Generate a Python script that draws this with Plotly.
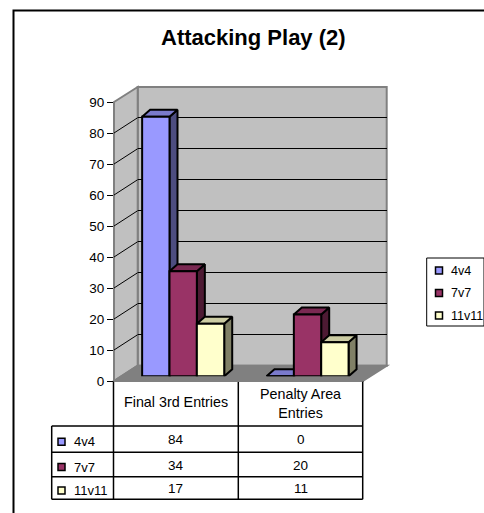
import plotly.graph_objects as go

W, H = 484, 513
title = "Attacking Play (2)"
categories = ["Final 3rd Entries", "Penalty Area Entries"]
cat_cells = ["Final 3rd Entries", "Penalty Area<br>Entries"]
series = ["4v4", "7v7", "11v11"]
v4 = [84, 0]
v7 = [34, 20]
v11 = [17, 11]
values = [v4, v7, v11]
yticks = [0, 10, 20, 30, 40, 50, 60, 70, 80, 90]

front = ["#9999FF", "#993366", "#FFFFCC"]
top = ["#7A7ACC", "#7A2952", "#CCCCA3"]
side = ["#4D4D80", "#4D1A33", "#808066"]

def px(x): return x / W
def py(y): return 1 - y / H
def dom(a, b): return [a / W, b / W]
def vdom(top_px, bot_px): return [1 - bot_px / H, 1 - top_px / H]

# front plane, back wall and bar plane positions (pixels)
FL, FR, FB, FT = 114, 362.7, 381, 102
BL, BR, BB, BT = 137.7, 386.7, 365.7, 87
XL, XR, XB, XT = 121, 369.7, 376.3, 98.2
GREY = "#808080"
WALL = "#C0C0C0"

fig = go.Figure()
shapes = []
anns = []

def poly(pts, fill, line=GREY, w=2):
    d = "M" + " L".join(f"{px(x):.5f},{py(y):.5f}" for x, y in pts) + " Z"
    shapes.append(dict(type="path", xref="paper", yref="paper", path=d, fillcolor=fill,
                       line=dict(color=line, width=w), layer="below"))

def seg(x0, y0, x1, y1, color="black", w=1.5):
    shapes.append(dict(type="line", xref="paper", yref="paper", x0=px(x0), y0=py(y0), x1=px(x1), y1=py(y1),
                       line=dict(color=color, width=w), layer="above"))

def text(x, y, t, size=13.5, anchor="center", bold=False):
    anns.append(dict(xref="paper", yref="paper", x=px(x), y=py(y), text=f"<b>{t}</b>" if bold else t,
                     showarrow=False, xanchor=anchor, yanchor="middle", align="center",
                     font=dict(family="Liberation Sans", size=size, color="black")))

# walls and floor
poly([(BL, BT), (BR, BT), (BR, BB), (BL, BB)], WALL)
poly([(FL, FT), (BL, BT), (BL, BB), (FL, FB)], WALL)
poly([(FL, FB), (FR, FB), (BR, BB), (BL, BB)], GREY)

# back wall gridlines
fig.add_trace(go.Scatter(x=[0], y=[0], xaxis="x", yaxis="y", mode="markers", marker=dict(opacity=0),
                         showlegend=False, hoverinfo="skip"))

# side wall gridlines + tick axis
for t in yticks[1:-1]:
    fig.add_trace(go.Scatter(x=[0, (BL - FL) / (FR - FL) * 2],
                             y=[t, t + (FB - BB) / ((FB - FT) / 90)],
                             xaxis="x2", yaxis="y2", mode="lines", cliponaxis=False,
                             line=dict(color="black", width=1), showlegend=False, hoverinfo="skip"))

# bar depth faces, then fronts on top
GAP = 0.34
BW = (1 - GAP) / 3
DX = 8 / ((XR - XL) / 2)
DY = 7 / ((XB - XT) / 90)
for i, (vals, name) in enumerate(zip(values, series)):
    for c, v in enumerate(vals):
        x0 = c - 0.5 + GAP / 2 + i * BW
        x1 = x0 + BW
        fig.add_trace(go.Scatter(x=[x1, x1 + DX, x1 + DX, x1, x1], y=[0, DY, v + DY, v, 0],
                                 xaxis="x3", yaxis="y3", mode="lines", fill="toself", fillcolor=side[i],
                                 line=dict(color="black", width=2), showlegend=False, hoverinfo="skip"))
        fig.add_trace(go.Scatter(x=[x0, x1, x1 + DX, x0 + DX, x0], y=[v, v, v + DY, v + DY, v],
                                 xaxis="x3", yaxis="y3", mode="lines", fill="toself", fillcolor=top[i],
                                 line=dict(color="black", width=2), showlegend=False, hoverinfo="skip"))
for i, (vals, name) in enumerate(zip(values, series)):
    fig.add_trace(go.Bar(x=[0, 1], y=vals, name=name, xaxis="x4", yaxis="y4",
                         marker=dict(color=front[i], line=dict(color="black", width=2)), showlegend=False))

# data table
TL, T0, T1, T2 = 51.7, 113.5, 238.3, 362.7
R = [381, 426, 452.3, 476.7, 499.3]
for x in (T0, T1, T2):
    seg(x, R[0], x, R[-1])
seg(T0, R[0], T2, R[0], GREY, 2)
for y in R[1:]:
    seg(TL, y, T2, y)
seg(TL, R[1], TL, R[-1])
text((T0 + T1) / 2, 401.7, cat_cells[0], size=14.3)
text((T1 + T2) / 2, 403, cat_cells[1], size=14.3)
def swatch(x, y, c):
    shapes.append(dict(type="rect", xref="paper", yref="paper", x0=px(x), x1=px(x + 7), y0=py(y - 3.5), y1=py(y + 3.5),
                       fillcolor=c, line=dict(color="black", width=1.5), layer="above"))
for r, name in enumerate(series):
    yc = (R[r + 1] + R[r + 2]) / 2
    swatch(58, yc + 2.5, front[r])
    text(72, yc + 2.5, name, size=13, anchor="left")
    text((T0 + T1) / 2, yc + 0.5, str(values[r][0]))
    text((T1 + T2) / 2, yc + 0.5, str(values[r][1]))

# legend
shapes.append(dict(type="rect", xref="paper", yref="paper", x0=px(426.7), x1=px(484), y0=py(258), y1=py(326),
                   line=dict(color="black", width=1), fillcolor="white", layer="below"))
for r, name in enumerate(series):
    y = 270.5 + r * 22.5
    swatch(435.5, y, front[r])
    text(449, y, name, size=12.5, anchor="left")

# outer frame and title
shapes.append(dict(type="rect", xref="paper", yref="paper", x0=px(13.5), x1=px(490), y0=py(10.5), y1=py(520),
                   line=dict(color="black", width=2), layer="below"))
text(253.5, 37, title, size=22, bold=True)

hidden = dict(visible=False, fixedrange=True)
fig.update_layout(
    width=W, height=H, margin=dict(l=0, r=0, t=0, b=0, pad=0, autoexpand=False), paper_bgcolor="white", plot_bgcolor="rgba(0,0,0,0)",
    barmode="group", bargap=GAP, bargroupgap=0, shapes=shapes, annotations=anns, showlegend=False,
    xaxis=dict(domain=dom(BL, BR), range=[0, 1], anchor="y", **hidden),
    yaxis=dict(domain=vdom(BT, BB), range=[0, 90], anchor="x", tickvals=yticks[1:-1], showgrid=True,
               gridcolor="black", gridwidth=1, showticklabels=False, zeroline=False, showline=False, fixedrange=True, ticks=""),
    xaxis2=dict(domain=dom(FL, FR), range=[0, 2], anchor="y2", **hidden),
    yaxis2=dict(domain=vdom(FT, FB), range=[0, 90], anchor="x2", tickvals=yticks, ticks="outside", ticklen=6,
                tickcolor="black", tickwidth=1, showgrid=False, zeroline=False, showline=False, fixedrange=True,
                tickfont=dict(family="Liberation Sans", size=13.5, color="black")),
    xaxis3=dict(domain=dom(XL, XR), range=[-0.5, 1.5], anchor="y3", **hidden),
    yaxis3=dict(domain=vdom(XT, XB), range=[0, 90], anchor="x3", **hidden),
    xaxis4=dict(domain=dom(XL, XR), range=[-0.5, 1.5], anchor="y4", **hidden),
    yaxis4=dict(domain=vdom(XT, XB), range=[0, 90], anchor="x4", **hidden),
)
fig.write_html("out.html", config=dict(displayModeBar=False),
               post_script="document.body.style.margin='0';document.documentElement.style.overflow='hidden';")
